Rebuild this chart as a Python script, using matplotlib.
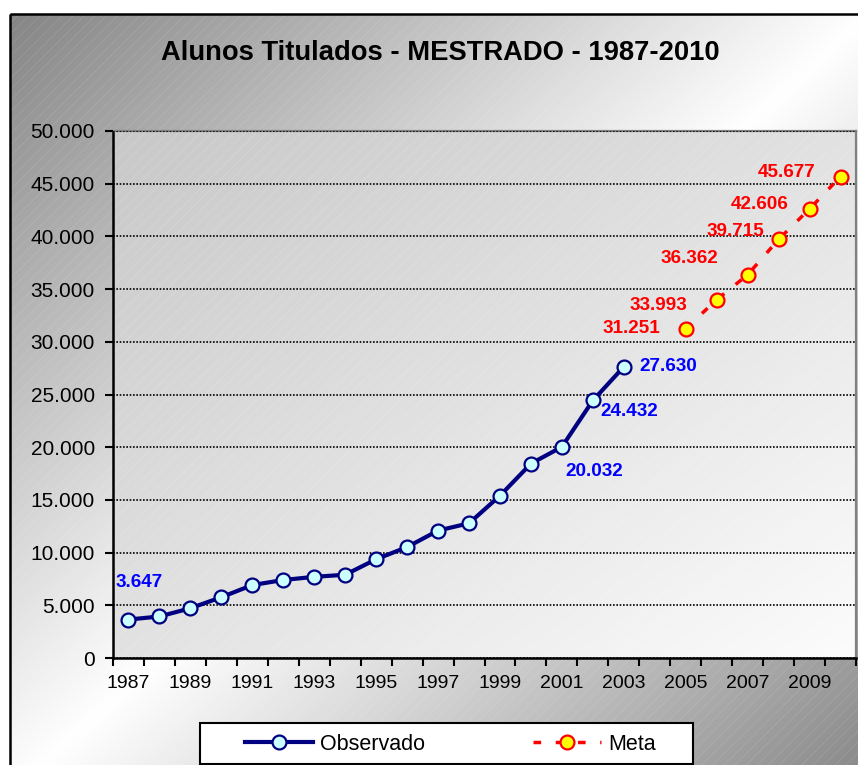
import numpy as np
import matplotlib
matplotlib.use("Agg")
import matplotlib.pyplot as plt
from matplotlib.lines import Line2D
from matplotlib.patches import Rectangle
from matplotlib.ticker import FuncFormatter, FixedLocator

plt.rcParams['font.family'] = ['Liberation Sans', 'DejaVu Sans']

# ---------------- data ----------------
years = list(range(1987, 2011))
obs_years = list(range(1987, 2004))
obs_values = [3647, 3940, 4720, 5770, 6920, 7400, 7700, 7900, 9370, 10525,
              12090, 12780, 15400, 18440, 20032, 24432, 27630]
meta_years = list(range(2005, 2011))
meta_values = [31251, 33993, 36362, 39715, 42606, 45677]
tick_years = list(range(1987, 2011, 2))
y_ticks = list(range(0, 50001, 5000))

title = "Alunos Titulados - MESTRADO - 1987-2010"
obs_label_years = [1987, 2001, 2002, 2003]
obs_label_offsets = [(11, 37), (32, -25), (36, -11), (44, 0)]
meta_label_offsets = [(-54, 0), (-58, -6), (-58, 16), (-43, 8), (-50, 4), (-54, 4)]

W, H = 858, 765
fig = plt.figure(figsize=(W / 100, H / 100), dpi=100)

# ---------------- chart-area background ----------------
bg = fig.add_axes([0, 0, 1, 1], zorder=-10)
bg.set_xlim(0, W)
bg.set_ylim(H, 0)
bg.axis('off')
xx, yy = np.meshgrid(np.arange(W) + 0.5, np.arange(H) + 0.5)
u = (xx - 10) / 860.0
v = (yy - 14) / 780.0
t = (u + v) / 2.0
val = 255 - 122 * np.abs(t - 0.5) * 2
val = np.clip(val, 0, 255) / 255.0
inside = (xx >= 10) & (yy >= 14)
val = np.where(inside, val, 1.0)
img = np.dstack([val, val, val])
bg.imshow(img, extent=[0, W, H, 0], interpolation='bilinear', aspect='auto')
plt.rcParams['hatch.linewidth'] = 0.35
bg.add_patch(Rectangle((10, 14), 870, 790, facecolor='none',
                       edgecolor=(1, 1, 1, 0.18), hatch='///', lw=0))
bg.add_patch(Rectangle((10, 14), 870, 790, facecolor='none',
                       edgecolor='black', lw=1.8))
bg.set_xlim(0, W)
bg.set_ylim(H, 0)

# ---------------- plot axes ----------------
left, right, top, bottom = 113, 856, 131, 658
ax = fig.add_axes([left / W, 1 - bottom / H, (right - left) / W, (bottom - top) / H])
ax.set_facecolor('none')

gx, gy = np.meshgrid(np.linspace(0, 1, 200), np.linspace(1, 0, 200))
pv = (200 + 52 * (gx + (1 - gy)) / 2.0) / 255.0
pimg = np.dstack([pv, pv, pv])
ax.imshow(pimg, extent=[0, 1, 0, 1], transform=ax.transAxes, aspect='auto',
          zorder=0.1, interpolation='bilinear')
ax.add_patch(Rectangle((0, 0), 1, 1, transform=ax.transAxes, facecolor='none',
                       edgecolor=(1, 1, 1, 0.25), hatch='///', lw=0, zorder=0.2))

xi_obs = [years.index(y) for y in obs_years]
xi_meta = [years.index(y) for y in meta_years]

ax.plot(xi_obs, obs_values, color='#000080', lw=3.0, marker='o', markersize=10,
        markerfacecolor='#CCFFFF', markeredgecolor='#000080', markeredgewidth=1.6,
        zorder=3, solid_joinstyle='round')
ax.plot(xi_meta, meta_values, color='#FF0000', lw=2.5, linestyle=(0, (2.2, 4.2)),
        marker='o', markersize=10, markerfacecolor='#FFFF00',
        markeredgecolor='#FF0000', markeredgewidth=1.6, zorder=3)

for yr, (dx, dy) in zip(obs_label_years, obs_label_offsets):
    i = obs_years.index(yr)
    ax.annotate(f"{obs_values[i]:,}".replace(",", "."), (xi_obs[i], obs_values[i]),
                xytext=(dx, dy), textcoords='offset pixels', ha='center', va='center',
                color='#0000FF', fontsize=13.6, fontweight='bold', zorder=4)
for i, (dx, dy) in enumerate(meta_label_offsets):
    ax.annotate(f"{meta_values[i]:,}".replace(",", "."), (xi_meta[i], meta_values[i]),
                xytext=(dx, dy), textcoords='offset pixels', ha='center', va='center',
                color='#FF0000', fontsize=13.6, fontweight='bold', zorder=4)

ax.set_xlim(-0.5, len(years) - 0.5)
ax.set_ylim(0, 50000)
ax.xaxis.set_major_locator(FixedLocator(np.arange(-0.5, len(years), 1.0)))
ax.xaxis.set_major_formatter(FuncFormatter(lambda x, p: ""))
ax.xaxis.set_minor_locator(FixedLocator([years.index(y) for y in tick_years]))
ax.xaxis.set_minor_formatter(FuncFormatter(lambda x, p: str(years[int(round(x))])))
ax.tick_params(axis='x', which='major', direction='out', length=6, width=1.5, color='black')
ax.tick_params(axis='x', which='minor', length=0, pad=12, labelsize=14)
ax.set_yticks(y_ticks)
ax.yaxis.set_major_formatter(FuncFormatter(lambda y, p: f"{int(y):,}".replace(",", ".")))
ax.tick_params(axis='y', direction='out', length=6, width=1.5, pad=7, labelsize=15)

ax.yaxis.grid(True, color='black', linestyle=(0, (1, 1)), lw=1.2, zorder=1)
ax.set_axisbelow(False)
for s in ['left', 'bottom']:
    ax.spines[s].set_color('black')
    ax.spines[s].set_linewidth(1.8)
for s in ['top', 'right']:
    ax.spines[s].set_color('#808080')
    ax.spines[s].set_linewidth(1.6)

# ---------------- title ----------------
fig.text(440 / W, 1 - 53 / H, title, ha='center', va='center',
         fontsize=19.7, fontweight='bold', color='black')

# ---------------- legend ----------------
bg.add_patch(Rectangle((200, 723), 493, 41, facecolor='white', edgecolor='black', lw=1.5))
handles = [
    Line2D([], [], color='#000080', lw=3.0, marker='o', markersize=10,
           markerfacecolor='#CCFFFF', markeredgecolor='#000080', markeredgewidth=1.6),
    Line2D([], [], color='#FF0000', lw=2.5, linestyle=(0, (2.2, 4.2)), marker='o',
           markersize=10, markerfacecolor='#FFFF00', markeredgecolor='#FF0000',
           markeredgewidth=1.6),
]
fig.legend(handles, ['Observado', 'Meta'], loc='center',
           bbox_to_anchor=(450 / W, 1 - 744 / H), ncol=2, frameon=False,
           fontsize=15.5, handlelength=3.2, handletextpad=0.3, columnspacing=5.0)

fig.savefig('out.png', dpi=100)
